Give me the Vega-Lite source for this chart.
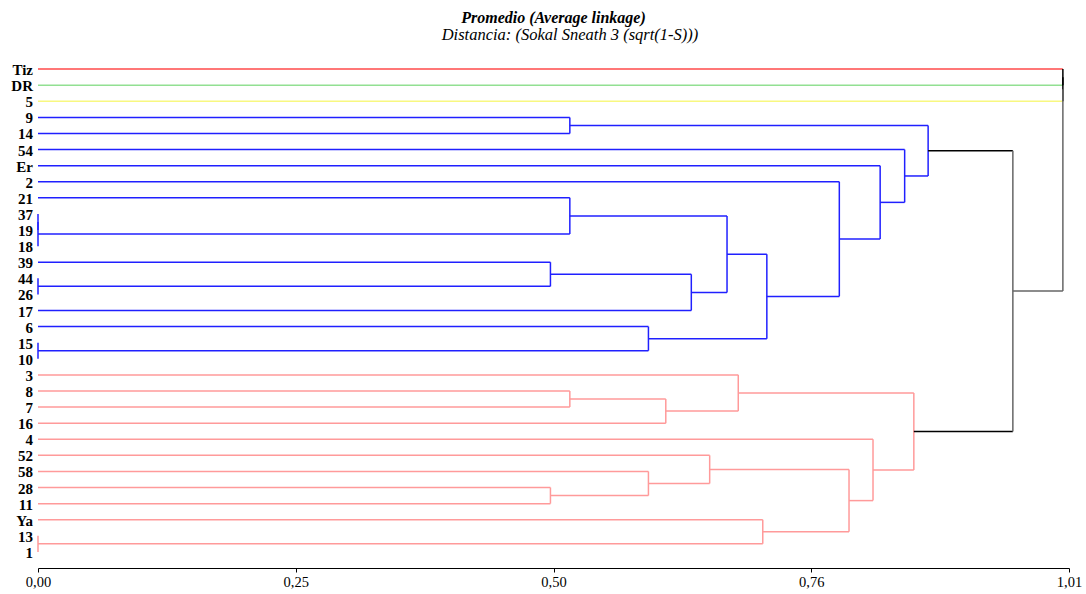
{
  "$schema": "https://vega.github.io/schema/vega-lite/v6.json",
  "width": 1031,
  "height": 515,
  "autosize": {"type": "none"},
  "padding": {"left": 38, "top": 53, "right": 17, "bottom": 26},
  "background": "white",
  "title": {
    "text": "Promedio (Average linkage)",
    "subtitle": "\u200b\u00a0\u00a0\u00a0\u00a0\u00a0\u00a0\u00a0\u00a0Distancia: (Sokal Sneath 3 (sqrt(1-S)))",
    "anchor": "middle",
    "font": "Liberation Serif",
    "fontSize": 16,
    "fontStyle": "italic",
    "fontWeight": "bold",
    "color": "#000000",
    "subtitleFont": "Liberation Serif",
    "subtitleFontSize": 16.5,
    "subtitleFontStyle": "italic",
    "subtitleFontWeight": "normal",
    "subtitleColor": "#000000",
    "subtitlePadding": 1,
    "offset": 10
  },
  "datasets": {
    "leaves": [
      {"name": "Tiz", "pos": 0}, {"name": "DR", "pos": 1}, {"name": "5", "pos": 2},
      {"name": "9", "pos": 3}, {"name": "14", "pos": 4}, {"name": "54", "pos": 5},
      {"name": "Er", "pos": 6}, {"name": "2", "pos": 7}, {"name": "21", "pos": 8},
      {"name": "37", "pos": 9}, {"name": "19", "pos": 10}, {"name": "18", "pos": 11},
      {"name": "39", "pos": 12}, {"name": "44", "pos": 13}, {"name": "26", "pos": 14},
      {"name": "17", "pos": 15}, {"name": "6", "pos": 16}, {"name": "15", "pos": 17},
      {"name": "10", "pos": 18}, {"name": "3", "pos": 19}, {"name": "8", "pos": 20},
      {"name": "7", "pos": 21}, {"name": "16", "pos": 22}, {"name": "4", "pos": 23},
      {"name": "52", "pos": 24}, {"name": "58", "pos": 25}, {"name": "28", "pos": 26},
      {"name": "11", "pos": 27}, {"name": "Ya", "pos": 28}, {"name": "13", "pos": 29},
      {"name": "1", "pos": 30}
    ],
    "links": [
      {"x": 0, "x2": 0, "y": 9, "y2": 10, "grp": "b"},
      {"x": 0, "x2": 0, "y": 9.5, "y2": 11, "grp": "b"},
      {"x": 0, "x2": 0.521, "y": 8, "y2": 8, "grp": "b"},
      {"x": 0, "x2": 0.521, "y": 10.25, "y2": 10.25, "grp": "b"},
      {"x": 0.521, "x2": 0.521, "y": 8, "y2": 10.25, "grp": "b"},
      {"x": 0, "x2": 0, "y": 13, "y2": 14, "grp": "b"},
      {"x": 0, "x2": 0.502, "y": 12, "y2": 12, "grp": "b"},
      {"x": 0, "x2": 0.502, "y": 13.5, "y2": 13.5, "grp": "b"},
      {"x": 0.502, "x2": 0.502, "y": 12, "y2": 13.5, "grp": "b"},
      {"x": 0.502, "x2": 0.64, "y": 12.75, "y2": 12.75, "grp": "b"},
      {"x": 0, "x2": 0.64, "y": 15, "y2": 15, "grp": "b"},
      {"x": 0.64, "x2": 0.64, "y": 12.75, "y2": 15, "grp": "b"},
      {"x": 0.521, "x2": 0.675, "y": 9.125, "y2": 9.125, "grp": "b"},
      {"x": 0.64, "x2": 0.675, "y": 13.875, "y2": 13.875, "grp": "b"},
      {"x": 0.675, "x2": 0.675, "y": 9.125, "y2": 13.875, "grp": "b"},
      {"x": 0, "x2": 0, "y": 17, "y2": 18, "grp": "b"},
      {"x": 0, "x2": 0.598, "y": 16, "y2": 16, "grp": "b"},
      {"x": 0, "x2": 0.598, "y": 17.5, "y2": 17.5, "grp": "b"},
      {"x": 0.598, "x2": 0.598, "y": 16, "y2": 17.5, "grp": "b"},
      {"x": 0.675, "x2": 0.714, "y": 11.5, "y2": 11.5, "grp": "b"},
      {"x": 0.598, "x2": 0.714, "y": 16.75, "y2": 16.75, "grp": "b"},
      {"x": 0.714, "x2": 0.714, "y": 11.5, "y2": 16.75, "grp": "b"},
      {"x": 0, "x2": 0.785, "y": 7, "y2": 7, "grp": "b"},
      {"x": 0.714, "x2": 0.785, "y": 14.125, "y2": 14.125, "grp": "b"},
      {"x": 0.785, "x2": 0.785, "y": 7, "y2": 14.125, "grp": "b"},
      {"x": 0, "x2": 0.825, "y": 6, "y2": 6, "grp": "b"},
      {"x": 0.785, "x2": 0.825, "y": 10.5625, "y2": 10.5625, "grp": "b"},
      {"x": 0.825, "x2": 0.825, "y": 6, "y2": 10.5625, "grp": "b"},
      {"x": 0, "x2": 0.849, "y": 5, "y2": 5, "grp": "b"},
      {"x": 0.825, "x2": 0.849, "y": 8.28125, "y2": 8.28125, "grp": "b"},
      {"x": 0.849, "x2": 0.849, "y": 5, "y2": 8.28125, "grp": "b"},
      {"x": 0, "x2": 0.521, "y": 3, "y2": 3, "grp": "b"},
      {"x": 0, "x2": 0.521, "y": 4, "y2": 4, "grp": "b"},
      {"x": 0.521, "x2": 0.521, "y": 3, "y2": 4, "grp": "b"},
      {"x": 0.521, "x2": 0.872, "y": 3.5, "y2": 3.5, "grp": "b"},
      {"x": 0.849, "x2": 0.872, "y": 6.640625, "y2": 6.640625, "grp": "b"},
      {"x": 0.872, "x2": 0.872, "y": 3.5, "y2": 6.640625, "grp": "b"},
      {"x": 0, "x2": 0.521, "y": 20, "y2": 20, "grp": "p"},
      {"x": 0, "x2": 0.521, "y": 21, "y2": 21, "grp": "p"},
      {"x": 0.521, "x2": 0.521, "y": 20, "y2": 21, "grp": "p"},
      {"x": 0.521, "x2": 0.615, "y": 20.5, "y2": 20.5, "grp": "p"},
      {"x": 0, "x2": 0.615, "y": 22, "y2": 22, "grp": "p"},
      {"x": 0.615, "x2": 0.615, "y": 20.5, "y2": 22, "grp": "p"},
      {"x": 0, "x2": 0.686, "y": 19, "y2": 19, "grp": "p"},
      {"x": 0.615, "x2": 0.686, "y": 21.25, "y2": 21.25, "grp": "p"},
      {"x": 0.686, "x2": 0.686, "y": 19, "y2": 21.25, "grp": "p"},
      {"x": 0, "x2": 0.502, "y": 26, "y2": 26, "grp": "p"},
      {"x": 0, "x2": 0.502, "y": 27, "y2": 27, "grp": "p"},
      {"x": 0.502, "x2": 0.502, "y": 26, "y2": 27, "grp": "p"},
      {"x": 0, "x2": 0.598, "y": 25, "y2": 25, "grp": "p"},
      {"x": 0.502, "x2": 0.598, "y": 26.5, "y2": 26.5, "grp": "p"},
      {"x": 0.598, "x2": 0.598, "y": 25, "y2": 26.5, "grp": "p"},
      {"x": 0, "x2": 0.658, "y": 24, "y2": 24, "grp": "p"},
      {"x": 0.598, "x2": 0.658, "y": 25.75, "y2": 25.75, "grp": "p"},
      {"x": 0.658, "x2": 0.658, "y": 24, "y2": 25.75, "grp": "p"},
      {"x": 0, "x2": 0, "y": 29, "y2": 30, "grp": "p"},
      {"x": 0, "x2": 0.71, "y": 28, "y2": 28, "grp": "p"},
      {"x": 0, "x2": 0.71, "y": 29.5, "y2": 29.5, "grp": "p"},
      {"x": 0.71, "x2": 0.71, "y": 28, "y2": 29.5, "grp": "p"},
      {"x": 0.658, "x2": 0.7945, "y": 24.875, "y2": 24.875, "grp": "p"},
      {"x": 0.71, "x2": 0.7945, "y": 28.75, "y2": 28.75, "grp": "p"},
      {"x": 0.7945, "x2": 0.7945, "y": 24.875, "y2": 28.75, "grp": "p"},
      {"x": 0, "x2": 0.818, "y": 23, "y2": 23, "grp": "p"},
      {"x": 0.7945, "x2": 0.818, "y": 26.8125, "y2": 26.8125, "grp": "p"},
      {"x": 0.818, "x2": 0.818, "y": 23, "y2": 26.8125, "grp": "p"},
      {"x": 0.686, "x2": 0.858, "y": 20.125, "y2": 20.125, "grp": "p"},
      {"x": 0.818, "x2": 0.858, "y": 24.90625, "y2": 24.90625, "grp": "p"},
      {"x": 0.858, "x2": 0.858, "y": 20.125, "y2": 24.90625, "grp": "p"},
      {"x": 0.872, "x2": 0.955, "y": 5.0703125, "y2": 5.0703125, "grp": "k"},
      {"x": 0.858, "x2": 0.955, "y": 22.515625, "y2": 22.515625, "grp": "k"},
      {"x": 0.955, "x2": 0.955, "y": 5.0703125, "y2": 22.515625, "grp": "g"},
      {"x": 0, "x2": 1.004, "y": 0, "y2": 0, "grp": "tiz"},
      {"x": 0, "x2": 1.004, "y": 1, "y2": 1, "grp": "dr"},
      {"x": 0, "x2": 1.004, "y": 2, "y2": 2, "grp": "c5"},
      {"x": 0.955, "x2": 1.004, "y": 13.79296875, "y2": 13.79296875, "grp": "g"},
      {"x": 1.004, "x2": 1.004, "y": 0, "y2": 1, "grp": "k"},
      {"x": 1.004, "x2": 1.004, "y": 0.5, "y2": 2, "grp": "k"},
      {"x": 1.004, "x2": 1.004, "y": 1.25, "y2": 13.79296875, "grp": "g"}
    ]
  },
  "layer": [
    {
      "data": {"name": "links"},
      "mark": {"type": "rule", "strokeWidth": 1.5},
      "encoding": {
        "x": {
          "field": "x",
          "type": "quantitative",
          "scale": {"domain": [0, 1.01], "nice": false, "zero": false},
          "axis": {
            "values": [0, 0.2525, 0.505, 0.7575, 1.01],
            "labelExpr": "['0,00', '0,25', '0,50', '0,76', '1,01'][round(datum.index * 4)]",
            "title": null,
            "grid": false,
            "domainColor": "#000000",
            "domainWidth": 1,
            "tickColor": "#000000",
            "tickSize": 4,
            "labelFont": "Liberation Serif",
            "labelFontSize": 14.5,
            "labelColor": "#000000",
            "labelPadding": 3,
            "labelFlush": false
          }
        },
        "x2": {"field": "x2"},
        "y": {
          "field": "y",
          "type": "quantitative",
          "scale": {"domain": [-1, 31], "nice": false, "zero": false, "reverse": true},
          "axis": null
        },
        "y2": {"field": "y2"},
        "color": {
          "field": "grp",
          "type": "nominal",
          "scale": {
            "domain": ["b", "p", "k", "g", "tiz", "dr", "c5"],
            "range": ["#2020ff", "#ff9a9a", "#000000", "#666666", "#ff4a4a", "#92e092", "#f8f880"]
          },
          "legend": null
        }
      }
    },
    {
      "data": {"name": "leaves"},
      "mark": {
        "type": "text",
        "align": "right",
        "baseline": "middle",
        "dx": -5,
        "dy": 1,
        "font": "Liberation Serif",
        "fontWeight": "bold",
        "fontSize": 15,
        "color": "#000000"
      },
      "encoding": {
        "x": {"datum": 0, "type": "quantitative"},
        "y": {"field": "pos", "type": "quantitative"},
        "text": {"field": "name"}
      }
    }
  ],
  "config": {
    "view": {"stroke": null}
  }
}
